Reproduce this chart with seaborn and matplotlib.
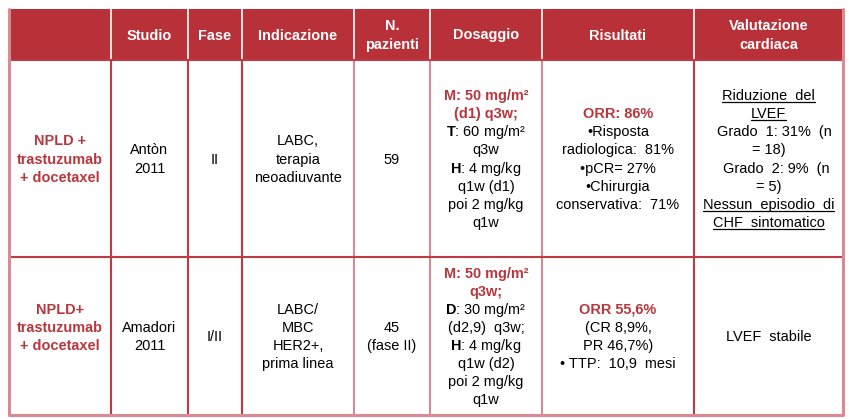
import matplotlib.pyplot as plt
import seaborn as sns

# table content, one list per column
headers = ["", "Studio", "Fase", "Indicazione", "N.\npazienti", "Dosaggio",
           "Risultati", "Valutazione\ncardiaca"]
regimens = [["NPLD +", "trastuzumab", "+ docetaxel"],
            ["NPLD+", "trastuzumab", "+ docetaxel", ""]]
studies = [["Antòn", "2011"], ["Amadori", "2011"]]
phases = [["II"], ["I/II"]]
indications = [["LABC,", "terapia", "neoadiuvante"],
               ["LABC/", "MBC", "HER2+,", "prima linea"]]
patients = [["59"], ["45", "(fase II)"]]
# style tags: r = red bold, n = normal, u = underlined
dosing = [[("M: 50 mg/m²", "r"), ("(d1) q3w;", "r"), ("$\\mathbf{T}$: 60 mg/m²", "n"),
           ("q3w", "n"), ("$\\mathbf{H}$: 4 mg/kg", "n"), ("q1w (d1)", "n"),
           ("poi 2 mg/kg", "n"), ("q1w", "n")],
          [("M: 50 mg/m²", "r"), ("q3w;", "r"), ("$\\mathbf{D}$: 30 mg/m²", "n"),
           ("(d2,9)  q3w;", "n"), ("$\\mathbf{H}$: 4 mg/kg", "n"), ("q1w (d2)", "n"),
           ("poi 2 mg/kg", "n"), ("q1w", "n")]]
results = [[("ORR: 86%", "r"), ("•Risposta", "n"), ("radiologica:  81%", "n"),
            ("•pCR= 27%", "n"), ("•Chirurgia", "n"), ("conservativa:  71%", "n")],
           [("ORR 55,6%", "r"), ("(CR 8,9%,", "n"), ("PR 46,7%)", "n"),
            ("• TTP:  10,9  mesi", "n")]]
cardiac = [[("Riduzione  del", "u"), ("LVEF", "u"), ("   Grado  1: 31%  (n", "n"),
            ("= 18)", "n"), ("    Grado  2: 9%  (n", "n"), ("= 5)", "n"),
            ("Nessun  episodio  di", "u"), ("CHF  sintomatico", "u")],
           [("LVEF  stabile", "n")]]

col_edges = [9, 111, 188, 242, 354, 430, 542, 694, 843]
row_edges = [9, 60, 257, 415]

RED = "#B83038"
TXT_RED = "#B8373D"
LINE_RED = "#C03A45"
PINK = "#DA8A92"
FS = 10.45
LH = 18.1

sns.set_theme(style="white")
plt.rcParams['font.family'] = ['Liberation Sans', 'DejaVu Sans']
plt.rcParams['mathtext.fontset'] = 'custom'
plt.rcParams['mathtext.rm'] = 'Liberation Sans'
plt.rcParams['mathtext.bf'] = 'Liberation Sans:bold'

fig = plt.figure(figsize=(8.49, 4.19), dpi=100)
ax = fig.add_axes([0, 0, 1, 1])
ax.set_xlim(0, 849)
ax.set_ylim(419, 0)
ax.axis("off")

# header band
ax.fill_between([col_edges[0], col_edges[-1]], row_edges[0], row_edges[1],
                color=RED, lw=0, zorder=1)

# grid lines
x0, x1 = col_edges[0], col_edges[-1]
for i, x in enumerate(col_edges[1:-1], start=1):
    c = PINK if i in (4, 5, 6) else LINE_RED
    ax.plot([x, x], [row_edges[0], row_edges[1]], color="white", lw=1.2, zorder=2)
    ax.plot([x, x], [row_edges[1], row_edges[-1]], color=c, lw=1.5, zorder=2)
for y in row_edges[1:-1]:
    ax.plot([x0, x1], [y, y], color=LINE_RED, lw=1.5, zorder=3)
# outer border
ax.plot([x0, x0, x1, x1], [row_edges[1], row_edges[-1], row_edges[-1], row_edges[1]],
        color=PINK, lw=2.2, zorder=3)
ax.plot([x0, x0], [row_edges[0], row_edges[1]], color=PINK, lw=2.2, zorder=3)
ax.plot([x1, x1], [row_edges[0], row_edges[1]], color=PINK, lw=2.2, zorder=3)

underlines = []


def draw_cell(lines, col, row):
    cx = (col_edges[col] + col_edges[col + 1]) / 2
    cy = (row_edges[row] + row_edges[row + 1]) / 2
    n = len(lines)
    for k, item in enumerate(lines):
        if isinstance(item, str):
            item = (item, "n")
        s, style = item
        if not s:
            continue
        y = cy + (k - (n - 1) / 2) * LH + 5
        kw = dict(ha="center", va="baseline", fontsize=FS, zorder=4)
        if style == "r":
            t = ax.text(cx, y, s, color=TXT_RED, fontweight="bold", **kw)
        elif style == "h":
            t = ax.text(cx, y, s, color="white", fontweight="bold", **kw)
        else:
            t = ax.text(cx, y, s, color="black", **kw)
        if style == "u":
            underlines.append((t, y))


# header
for j, h in enumerate(headers):
    draw_cell([(s, "h") for s in h.split("\n")], j, 0)

for r in range(2):
    draw_cell([(s, "r") for s in regimens[r]], 0, r + 1)
    draw_cell(studies[r], 1, r + 1)
    draw_cell(phases[r], 2, r + 1)
    draw_cell(indications[r], 3, r + 1)
    draw_cell(patients[r], 4, r + 1)
    draw_cell(dosing[r], 5, r + 1)
    draw_cell(results[r], 6, r + 1)
    draw_cell(cardiac[r], 7, r + 1)

fig.canvas.draw()
renderer = fig.canvas.get_renderer()
inv = ax.transData.inverted()
for t, y in underlines:
    bb = t.get_window_extent(renderer)
    (xa, _), (xb, _) = inv.transform([(bb.x0, bb.y0), (bb.x1, bb.y1)])
    ax.plot([xa, xb], [y + 1.8, y + 1.8], color="black", lw=0.9, zorder=4)

fig.savefig("out.png", dpi=100)
